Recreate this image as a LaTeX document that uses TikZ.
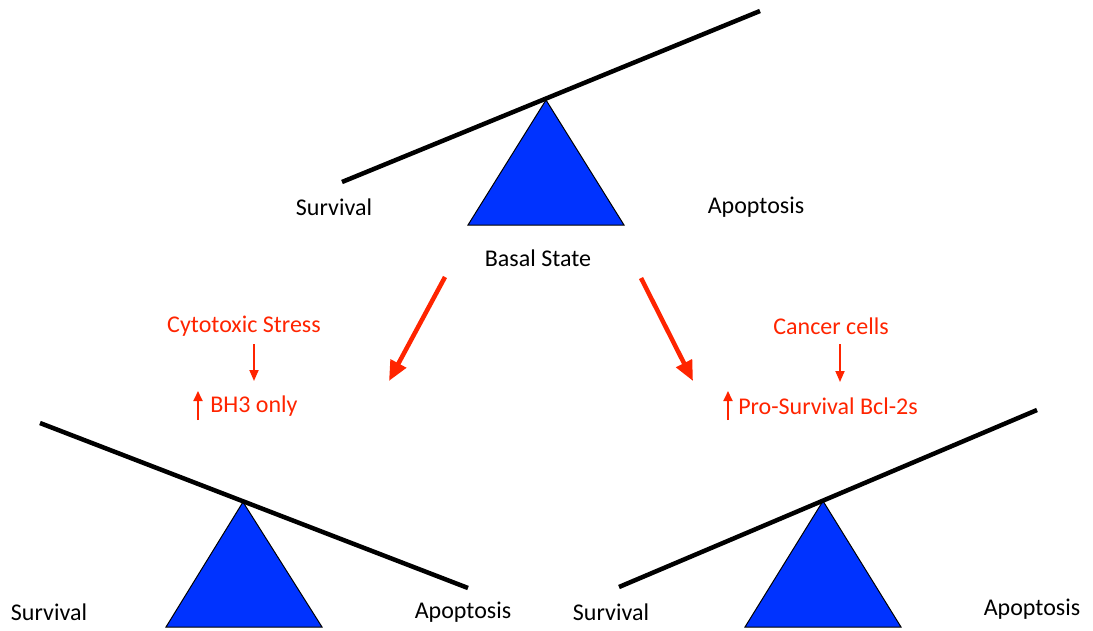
\documentclass[tikz,border=0pt]{standalone}
\usepackage{fontspec}
\setmainfont{Carlito}
\usetikzlibrary{arrows.meta}
\definecolor{pivotblue}{RGB}{0,51,255}
\definecolor{signalred}{RGB}{255,36,0}
\newcommand{\beamwidth}{4.5pt}
\newcommand{\bigarrow}{4.5pt}
\newcommand{\smallarrow}{1.8pt}

\begin{document}
\begin{tikzpicture}[x=1pt, y=-1pt,
  lbl/.style={font=\fontsize{24}{28}\selectfont, inner sep=0pt},
  redlbl/.style={lbl, text=signalred},
  beam/.style={line width=\beamwidth},
  pivot/.style={fill=pivotblue, draw=black, line width=1pt, line join=miter}]
\useasboundingbox (0,0) rectangle (1093,630);
%basal state
\coordinate (b1) at (342,182);
\coordinate (b2) at (760,11);
\draw[pivot] (546,100) -- (624,225) -- (468,225) -- cycle;
\draw[beam] (b1) -- (b2);
\node[lbl] (surv1) at (334,207) {Survival};
\node[lbl] (apop1) at (756,207) {Apoptosis};
\node[lbl] (basal) at (538,258) {Basal State};
%stress
\coordinate (s1) at (40,423);
\coordinate (s2) at (468,588);
\draw[pivot] (243,502) -- (322,627) -- (166,627) -- cycle;
\draw[beam] (s1) -- (s2);
\node[lbl] (surv2) at (49,612) {Survival};
\node[lbl] (apop2) at (463,612) {Apoptosis};
%cancer
\coordinate (c1) at (619,587);
\coordinate (c2) at (1037,410);
\draw[pivot] (823,501) -- (901,627) -- (745,627) -- cycle;
\draw[beam] (c1) -- (c2);
\node[lbl] (surv3) at (611,612) {Survival};
\node[lbl] (apop3) at (1032,609) {Apoptosis};
%red labels
\node[redlbl] (cyto) at (244,326) {Cytotoxic Stress};
\node[redlbl] (bh3) at (254,406) {BH3 only};
\node[redlbl] (cancer) at (831,326) {Cancer cells};
\node[redlbl] (prosurv) at (828,406) {Pro-Survival Bcl-2s};
%arrows
\coordinate (la1) at (445,277);
\coordinate (la2) at (389,381);
\coordinate (ra1) at (641,278);
\coordinate (ra2) at (693,381);
\draw[signalred, line width=\bigarrow, -{Triangle[length=20pt, width=17pt]}] (la1) -- (la2);
\draw[signalred, line width=\bigarrow, -{Triangle[length=20pt, width=17pt]}] (ra1) -- (ra2);
\draw[signalred, line width=\smallarrow, -{Triangle[length=11pt, width=9pt]}] (254,344) -- (254,381);
\draw[signalred, line width=\smallarrow, -{Triangle[length=11pt, width=9pt]}] (840,344) -- (840,382);
\draw[signalred, line width=\smallarrow, -{Triangle[length=10pt, width=9pt]}] (198,420) -- (198,391);
\draw[signalred, line width=\smallarrow, -{Triangle[length=10pt, width=9pt]}] (728,420) -- (728,391);
\end{tikzpicture}
\end{document}
